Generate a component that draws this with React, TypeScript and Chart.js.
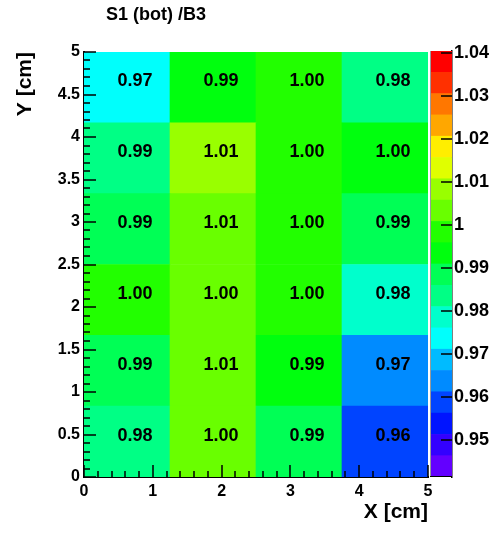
import React, { useEffect, useRef } from 'react';
import { Chart, registerables } from 'chart.js';

Chart.register(...registerables);

// ---------- data ----------
const chartTitle = 'S1 (bot) /B3';
const xTitle = 'X [cm]';
const yTitle = 'Y [cm]';
const columnLabels = ['0-1.25', '1.25-2.5', '2.5-3.75', '3.75-5'];
const rowEdges = [0, 0.8333, 1.6667, 2.5, 3.3333, 4.1667, 5];
// rows from bottom (y 0-0.83) to top (y 4.17-5), columns left to right
const row1 = [0.983, 1.002, 0.989, 0.959];
const row2 = [0.987, 1.0052, 0.993, 0.9658];
const row3 = [0.998, 1.002, 0.999, 0.979];
const row4 = [0.988, 1.0055, 0.998, 0.989];
const row5 = [0.9858, 1.007, 0.999, 0.9957];
const row6 = [0.973, 0.993, 0.999, 0.983];
const rows = [row1, row2, row3, row4, row5, row6];
const xTicks = [0, 1, 2, 3, 4, 5];
const yTicks = [0, 0.5, 1, 1.5, 2, 2.5, 3, 3.5, 4, 4.5, 5];
const zTicks = [0.95, 0.96, 0.97, 0.98, 0.99, 1.0, 1.01, 1.02, 1.03, 1.04];
const zMin = 0.9414;
const zMax = 1.0405;
const zLevels = 20;

// ---------- style ----------
const FAMILY = '"Liberation Sans", Arial, Helvetica, sans-serif';
const W = 495;
const H = 534;

function hueToRgb(h: number): string {
  const f = (n: number) => {
    const k = (n + h / 30) % 12;
    return 0.5 - 0.5 * Math.max(-1, Math.min(k - 3, 9 - k, 1));
  };
  const c = (v: number) => Math.round(v * 255);
  return `rgb(${c(f(0))},${c(f(8))},${c(f(4))})`;
}
// ROOT "pretty palette" (50 colours, violet -> red), sampled for 20 levels
function levelColor(k: number): string {
  const idx = Math.floor(((k + 0.99) * 50) / zLevels);
  const hue = 280 - (idx + 1) * 5.6;
  return hueToRgb(hue);
}
function valueColor(v: number): string {
  let k = Math.floor(((v - zMin) / (zMax - zMin)) * zLevels);
  k = Math.max(0, Math.min(zLevels - 1, k));
  return levelColor(k);
}

const tickFont = { family: FAMILY, size: 16, weight: 'bold' as const };
const titleFont = { family: FAMILY, size: 21, weight: 'bold' as const };
const fmt = (v: number) => String(Number(Number(v).toFixed(2)));

const mainPlugin = {
  id: 'rootDecor',
  afterDraw(chart: any) {
    const ctx = chart.ctx;
    const xs = chart.scales.x;
    const ys = chart.scales.y;
    const area = chart.chartArea;
    ctx.save();
    // cell texts
    ctx.fillStyle = '#000';
    ctx.font = `bold 18px ${FAMILY}`;
    ctx.textAlign = 'center';
    ctx.textBaseline = 'middle';
    chart.data.datasets.forEach((ds: any, r: number) => {
      const meta = chart.getDatasetMeta(r);
      meta.data.forEach((el: any, j: number) => {
        const cy = (el.y + el.base) / 2;
        ctx.fillText(rows[r][j].toFixed(2), el.x + 8, cy - 6);
      });
    });
    // inner tick marks
    ctx.fillStyle = '#000';
    const bottom = Math.round(area.bottom);
    const left = Math.round(area.left);
    for (let i = 0; i <= 25; i++) {
      const px = Math.round(xs.getPixelForValue(i * 0.2));
      const len = i % 5 === 0 ? 12 : 6;
      ctx.fillRect(px - 0.75, bottom - len, 1.5, len);
    }
    for (let i = 0; i <= 50; i++) {
      const py = Math.round(ys.getPixelForValue(i * 0.1));
      const len = i % 5 === 0 ? 12 : 6;
      ctx.fillRect(left, py - 0.75, len, 1.5);
    }
    // title
    ctx.font = `bold 18px ${FAMILY}`;
    ctx.textAlign = 'left';
    ctx.textBaseline = 'middle';
    ctx.fillText(chartTitle, 106, 15);
    ctx.restore();
  },
};

const barPlugin = {
  id: 'paletteDecor',
  afterDraw(chart: any) {
    const ctx = chart.ctx;
    const ys = chart.scales.y;
    const area = chart.chartArea;
    const right = Math.round(area.right);
    ctx.save();
    ctx.fillStyle = '#000';
    zTicks.forEach((v) => {
      const py = Math.round(ys.getPixelForValue(v));
      ctx.fillRect(right - 11, py - 0.75, 11, 1.5);
    });
    ctx.fillStyle = '#999';
    ctx.fillRect(Math.round(area.left), Math.round(area.top), 1, Math.round(area.bottom - area.top));
    ctx.fillStyle = '#000';
    ctx.fillRect(Math.round(area.left), Math.round(area.bottom) - 1, right - Math.round(area.left), 1);
    ctx.restore();
  },
};

export default function App() {
  const mainRef = useRef<HTMLCanvasElement | null>(null);
  const barRef = useRef<HTMLCanvasElement | null>(null);

  useEffect(() => {
    const datasets = rows.map((vals, r) => ({
      label: `row${r + 1}`,
      data: vals.map(() => [rowEdges[r], rowEdges[r + 1]]),
      backgroundColor: vals.map(valueColor),
      borderWidth: 0,
      xAxisID: 'xc',
      yAxisID: 'y',
      grouped: false,
      barPercentage: 1,
      categoryPercentage: 1,
    }));

    const main = new Chart(mainRef.current as HTMLCanvasElement, {
      type: 'bar',
      data: { labels: columnLabels, datasets: datasets as any },
      options: {
        responsive: false,
        animation: false,
        devicePixelRatio: 1,
        layout: { padding: { top: 52, right: W - 428, left: 0, bottom: 0 } },
        plugins: { legend: { display: false }, tooltip: { enabled: false }, title: { display: false } },
        scales: {
          xc: { type: 'category', display: false, offset: true },
          x: {
            type: 'linear', position: 'bottom', min: 0, max: 5, offset: false,
            afterBuildTicks: (s: any) => { s.ticks = xTicks.map((v) => ({ value: v })); },
            afterFit: (s: any) => { s.height = H - 477; },
            ticks: { callback: (v: any) => fmt(v), font: tickFont, color: '#000', padding: 5, maxRotation: 0, autoSkip: false },
            grid: { display: false, drawTicks: false, offset: false },
            border: { display: true, color: '#000', width: 2 },
            title: { display: true, text: xTitle, align: 'end', font: titleFont, color: '#000', padding: { top: 0, bottom: 9 } },
          },
          y: {
            type: 'linear', position: 'left', min: 0, max: 5, offset: false,
            afterBuildTicks: (s: any) => { s.ticks = yTicks.map((v) => ({ value: v })); },
            afterFit: (s: any) => { s.width = 84; },
            ticks: { callback: (v: any) => fmt(v), font: tickFont, color: '#000', padding: 4, autoSkip: false },
            grid: { display: false, drawTicks: false },
            border: { display: true, color: '#000', width: 2 },
            title: { display: true, text: yTitle, align: 'end', font: titleFont, color: '#000', padding: { top: 13, bottom: 0 } },
          },
        },
      } as any,
      plugins: [mainPlugin],
    });

    const dz = (zMax - zMin) / zLevels;
    const barSets = Array.from({ length: zLevels }, (_, k) => ({
      label: `level${k}`,
      data: [[zMin + k * dz, zMin + (k + 1) * dz]],
      backgroundColor: levelColor(k),
      borderWidth: 0,
      xAxisID: 'xc',
      yAxisID: 'y',
      grouped: false,
      barPercentage: 1,
      categoryPercentage: 1,
    }));

    const bar = new Chart(barRef.current as HTMLCanvasElement, {
      type: 'bar',
      data: { labels: [''], datasets: barSets as any },
      options: {
        responsive: false,
        animation: false,
        devicePixelRatio: 1,
        layout: { padding: { top: 51, left: 430, bottom: H - 477, right: 0 } },
        plugins: { legend: { display: false }, tooltip: { enabled: false } },
        scales: {
          xc: { type: 'category', display: false, offset: true },
          y: {
            type: 'linear', position: 'right', min: zMin, max: zMax,
            afterBuildTicks: (s: any) => { s.ticks = zTicks.map((v) => ({ value: v })); },
            afterFit: (s: any) => { s.width = W - 452; },
            ticks: { callback: (v: any) => fmt(v), font: { family: FAMILY, size: 18, weight: 'bold' }, color: '#000', padding: 2, autoSkip: false },
            grid: { display: false, drawTicks: false },
            border: { display: true, color: '#000', width: 1.5 },
          },
        },
      } as any,
      plugins: [barPlugin],
    });

    return () => {
      main.destroy();
      bar.destroy();
    };
  }, []);

  return (
    <div style={{ position: 'absolute', left: 0, top: 0, width: W, height: H, background: '#fff' }}>
      <canvas ref={mainRef} width={W} height={H} style={{ position: 'absolute', left: 0, top: 0 }} />
      <canvas ref={barRef} width={W} height={H} style={{ position: 'absolute', left: 0, top: 0, pointerEvents: 'none' }} />
    </div>
  );
}
